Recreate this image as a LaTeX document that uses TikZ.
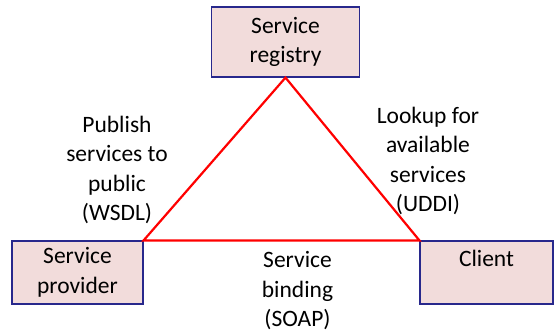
\documentclass[tikz,border=0pt]{standalone}
\usepackage{fontspec}
\setmainfont{Carlito}
\definecolor{boxfill}{RGB}{242,220,219}
\definecolor{boxline}{RGB}{40,40,140}
\tikzset{
	rolebox/.style={draw=boxline, line width=1.2pt, fill=boxfill, align=center, inner sep=0pt},
	note/.style={align=center, inner sep=0pt}
}
\begin{document}
\begin{tikzpicture}[x=1pt, y=-1pt, font=\fontsize{23.5}{29.5}\selectfont]
		\useasboundingbox (0,0) rectangle (556,332);

		\node[rolebox, minimum width=148pt, minimum height=70pt] (registry) at (285.5,42) {Service\\registry};
		\node[rolebox, minimum width=131pt, minimum height=63pt] (provider) at (77.5,272.5) {Service\\[1pt]provider};
		\node[rolebox, minimum width=133pt, minimum height=63pt] (client) at (486.5,272.5) {Client\\[-10pt]\strut};

		\draw[red, line width=2.2pt, line join=miter] (registry.south) -- (provider.north east) -- (client.north west) -- cycle;

		\node[note] (publish) at (117,170) {Publish\\services to\\public\\(WSDL)};
		\node[note] (lookup) at (428,161) {Lookup for\\available\\services\\(UDDI)};
		\node[note] (binding) at (297.5,291) {Service\\binding\\(SOAP)};
	\end{tikzpicture}
\end{document}
